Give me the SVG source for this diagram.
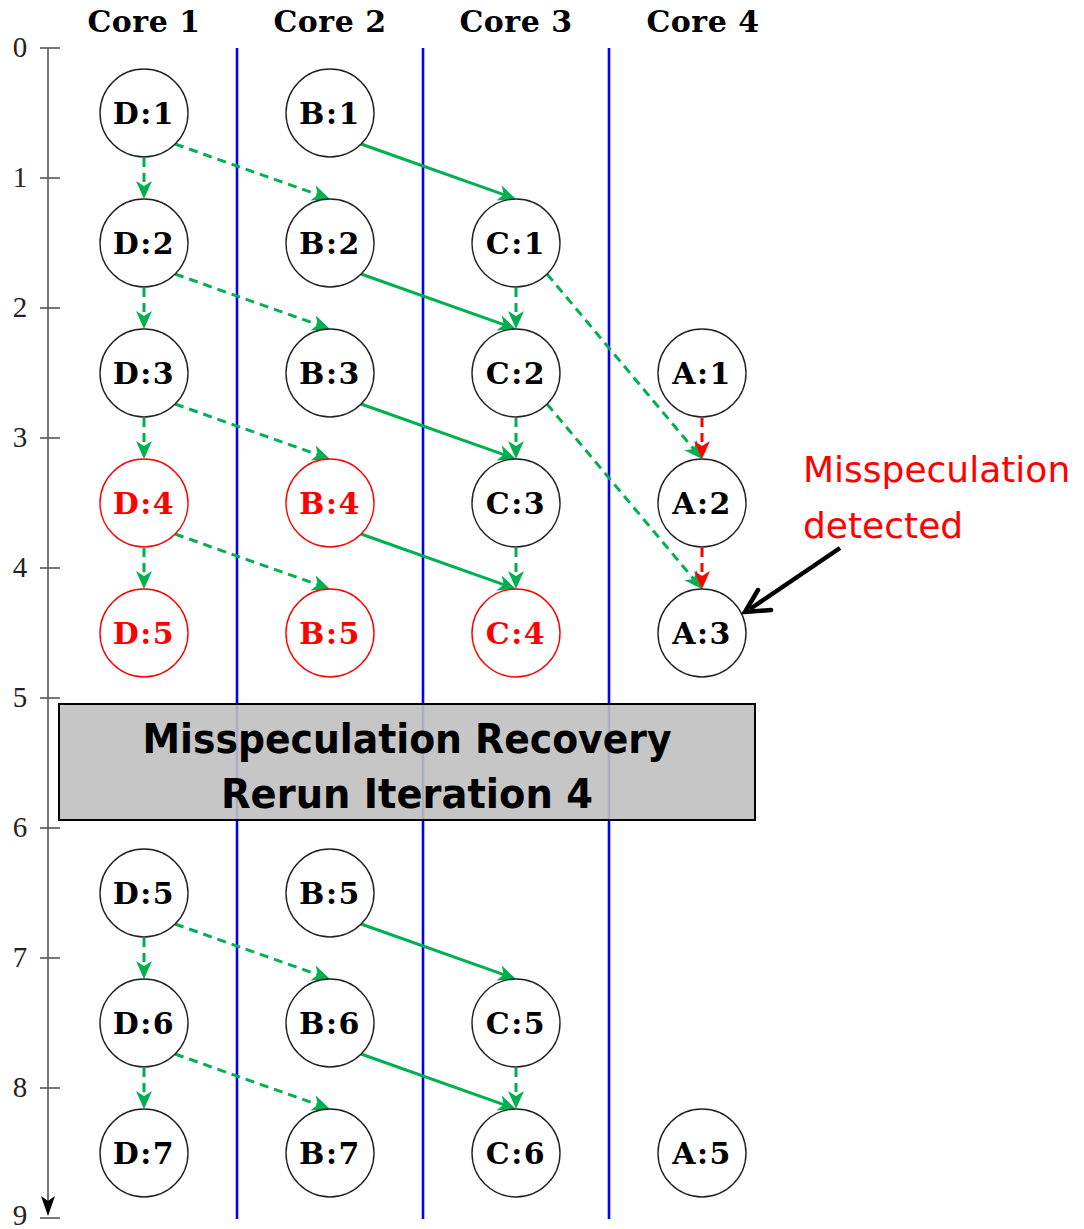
<svg xmlns="http://www.w3.org/2000/svg" width="1084" height="1229" viewBox="0 0 1084 1229">
  <style>
    .hdr { font-family: "DejaVu Serif", "Liberation Serif", serif; font-weight: bold; font-size: 30px; text-anchor: middle; fill: #000; letter-spacing: 0.5px; }
    .tick { font-family: "Liberation Serif", "DejaVu Serif", serif; font-size: 29px; text-anchor: middle; fill: #222; }
    .node circle { fill: #fff; stroke: #222; stroke-width: 1.4; }
    .node text { font-family: "DejaVu Serif", "Liberation Serif", serif; font-weight: bold; font-size: 30px; text-anchor: middle; fill: #000; letter-spacing: 1.5px; }
    .node.bad circle { stroke: #ff0000; }
    .node.bad text { fill: #ff0000; }
    .core { stroke: #0000ff; stroke-width: 2.6; }
    .axis { stroke: #555; stroke-width: 1.6; fill: none; }
    .dep { fill: none; stroke: #00b050; stroke-width: 3; }
    .dash { stroke-dasharray: 9 6; }
    .spec { fill: none; stroke: #ff0000; stroke-width: 3; stroke-dasharray: 9 6; }
    .gA { marker-end: url(#headG); }
    .rA { marker-end: url(#headR); }
    .note { font-family: "DejaVu Sans", "Liberation Sans", sans-serif; font-size: 36px; fill: #ff0000; }
    .banner { font-family: "DejaVu Sans", "Liberation Sans", sans-serif; font-weight: bold; font-size: 41px; text-anchor: middle; fill: #000; }
  </style>
  <defs>
    <marker id="headG" viewBox="0 0 18 16" refX="8" refY="8" markerWidth="18" markerHeight="16" markerUnits="userSpaceOnUse" orient="auto">
      <path d="M0,0 L18,8 L0,16 L5,8 Z" fill="#00b050"/>
    </marker>
    <marker id="headR" viewBox="0 0 18 16" refX="8" refY="8" markerWidth="18" markerHeight="16" markerUnits="userSpaceOnUse" orient="auto">
      <path d="M0,0 L18,8 L0,16 L5,8 Z" fill="#ff0000"/>
    </marker>
  </defs>

  <rect width="1084" height="1229" fill="#fff"/>

  <!-- column headers -->
  <g id="headers">
    <text class="hdr" x="144" y="32">Core 1</text>
    <text class="hdr" x="330" y="32">Core 2</text>
    <text class="hdr" x="516" y="32">Core 3</text>
    <text class="hdr" x="703" y="32">Core 4</text>
  </g>

  <!-- time axis -->
  <g id="axis">
    <line class="axis" x1="48" y1="48" x2="48" y2="1206"/>
    <path d="M48,1216 L41,1196 L48,1201 L55,1196 Z" fill="#000"/>
    <g class="axis">
      <line x1="40" y1="48" x2="60" y2="48"/>
      <line x1="40" y1="178" x2="60" y2="178"/>
      <line x1="40" y1="308" x2="60" y2="308"/>
      <line x1="40" y1="438" x2="60" y2="438"/>
      <line x1="40" y1="568" x2="60" y2="568"/>
      <line x1="40" y1="698" x2="60" y2="698"/>
      <line x1="40" y1="828" x2="60" y2="828"/>
      <line x1="40" y1="958" x2="60" y2="958"/>
      <line x1="40" y1="1088" x2="60" y2="1088"/>
      <line x1="40" y1="1218" x2="60" y2="1218"/>
    </g>
    <text class="tick" x="20" y="57">0</text>
    <text class="tick" x="20" y="187">1</text>
    <text class="tick" x="20" y="317">2</text>
    <text class="tick" x="20" y="447">3</text>
    <text class="tick" x="20" y="577">4</text>
    <text class="tick" x="20" y="707">5</text>
    <text class="tick" x="20" y="837">6</text>
    <text class="tick" x="20" y="967">7</text>
    <text class="tick" x="20" y="1097">8</text>
    <text class="tick" x="20" y="1225">9</text>
  </g>

  <!-- core separators -->
  <g id="separators">
    <line class="core" x1="237" y1="48" x2="237" y2="1219"/>
    <line class="core" x1="423" y1="48" x2="423" y2="1219"/>
    <line class="core" x1="609" y1="48" x2="609" y2="1219"/>
  </g>

  <!-- dependences -->
  <g id="connectors">
    <!-- Core 1 chain, before recovery -->
    <line class="dep dash gA" x1="144" y1="158" x2="144" y2="189"/>
    <line class="dep dash gA" x1="144" y1="288" x2="144" y2="319"/>
    <line class="dep dash gA" x1="144" y1="418" x2="144" y2="449"/>
    <line class="dep dash gA" x1="144" y1="548" x2="144" y2="579"/>
    <!-- Core 1 to Core 2 -->
    <line class="dep dash gA" x1="175" y1="144" x2="320.6" y2="195.7"/>
    <line class="dep dash gA" x1="175" y1="274" x2="320.6" y2="325.7"/>
    <line class="dep dash gA" x1="175" y1="404" x2="320.6" y2="455.7"/>
    <line class="dep dash gA" x1="175" y1="534" x2="320.6" y2="585.7"/>
    <!-- Core 2 to Core 3 -->
    <line class="dep gA" x1="361" y1="144" x2="506.6" y2="195.7"/>
    <line class="dep gA" x1="361" y1="274" x2="506.6" y2="325.7"/>
    <line class="dep gA" x1="361" y1="404" x2="506.6" y2="455.7"/>
    <line class="dep gA" x1="361" y1="534" x2="506.6" y2="585.7"/>
    <!-- Core 3 chain -->
    <line class="dep dash gA" x1="516" y1="288" x2="516" y2="319"/>
    <line class="dep dash gA" x1="516" y1="418" x2="516" y2="449"/>
    <line class="dep dash gA" x1="516" y1="548" x2="516" y2="579"/>
    <!-- Core 3 to Core 4 -->
    <line class="dep dash gA" x1="547" y1="274" x2="695.6" y2="451.3"/>
    <line class="dep dash gA" x1="547" y1="404" x2="695.6" y2="581.3"/>
    <!-- Core 4 speculative chain -->
    <line class="spec rA" x1="702" y1="418" x2="702" y2="449"/>
    <line class="spec rA" x1="702" y1="548" x2="702" y2="579"/>

    <!-- after recovery -->
    <line class="dep dash gA" x1="144" y1="938" x2="144" y2="969"/>
    <line class="dep dash gA" x1="144" y1="1068" x2="144" y2="1099"/>
    <line class="dep dash gA" x1="175" y1="924" x2="320.6" y2="975.7"/>
    <line class="dep dash gA" x1="175" y1="1054" x2="320.6" y2="1105.7"/>
    <line class="dep gA" x1="361" y1="924" x2="506.6" y2="975.7"/>
    <line class="dep gA" x1="361" y1="1054" x2="506.6" y2="1105.7"/>
    <line class="dep dash gA" x1="516" y1="1068" x2="516" y2="1099"/>

    <!-- callout pointer -->
    <line x1="840" y1="548" x2="750" y2="609" stroke="#000" stroke-width="4.5"/>
    <polyline points="758,590 745,612 771,610" fill="none" stroke="#000" stroke-width="4.5" stroke-linejoin="miter" stroke-linecap="round"/>
  </g>

  <!-- Core 1 -->
  <g id="D1" class="node"><circle cx="144" cy="113" r="44"/><text x="144" y="124">D:1</text></g>
  <g id="D2" class="node"><circle cx="144" cy="243" r="44"/><text x="144" y="254">D:2</text></g>
  <g id="D3" class="node"><circle cx="144" cy="373" r="44"/><text x="144" y="384">D:3</text></g>
  <g id="D4" class="node bad"><circle cx="144" cy="503" r="44"/><text x="144" y="514">D:4</text></g>
  <g id="D5" class="node bad"><circle cx="144" cy="633" r="44"/><text x="144" y="644">D:5</text></g>
  <g id="D5r" class="node"><circle cx="144" cy="893" r="44"/><text x="144" y="904">D:5</text></g>
  <g id="D6" class="node"><circle cx="144" cy="1023" r="44"/><text x="144" y="1034">D:6</text></g>
  <g id="D7" class="node"><circle cx="144" cy="1153" r="44"/><text x="144" y="1164">D:7</text></g>

  <!-- Core 2 -->
  <g id="B1" class="node"><circle cx="330" cy="113" r="44"/><text x="330" y="124">B:1</text></g>
  <g id="B2" class="node"><circle cx="330" cy="243" r="44"/><text x="330" y="254">B:2</text></g>
  <g id="B3" class="node"><circle cx="330" cy="373" r="44"/><text x="330" y="384">B:3</text></g>
  <g id="B4" class="node bad"><circle cx="330" cy="503" r="44"/><text x="330" y="514">B:4</text></g>
  <g id="B5" class="node bad"><circle cx="330" cy="633" r="44"/><text x="330" y="644">B:5</text></g>
  <g id="B5r" class="node"><circle cx="330" cy="893" r="44"/><text x="330" y="904">B:5</text></g>
  <g id="B6" class="node"><circle cx="330" cy="1023" r="44"/><text x="330" y="1034">B:6</text></g>
  <g id="B7" class="node"><circle cx="330" cy="1153" r="44"/><text x="330" y="1164">B:7</text></g>

  <!-- Core 3 -->
  <g id="C1" class="node"><circle cx="516" cy="243" r="44"/><text x="516" y="254">C:1</text></g>
  <g id="C2" class="node"><circle cx="516" cy="373" r="44"/><text x="516" y="384">C:2</text></g>
  <g id="C3" class="node"><circle cx="516" cy="503" r="44"/><text x="516" y="514">C:3</text></g>
  <g id="C4" class="node bad"><circle cx="516" cy="633" r="44"/><text x="516" y="644">C:4</text></g>
  <g id="C5" class="node"><circle cx="516" cy="1023" r="44"/><text x="516" y="1034">C:5</text></g>
  <g id="C6" class="node"><circle cx="516" cy="1153" r="44"/><text x="516" y="1164">C:6</text></g>

  <!-- Core 4 -->
  <g id="A1" class="node"><circle cx="702" cy="373" r="44"/><text x="702" y="384">A:1</text></g>
  <g id="A2" class="node"><circle cx="702" cy="503" r="44"/><text x="702" y="514">A:2</text></g>
  <g id="A3" class="node"><circle cx="702" cy="633" r="44"/><text x="702" y="644">A:3</text></g>
  <g id="A5" class="node"><circle cx="702" cy="1153" r="44"/><text x="702" y="1164">A:5</text></g>

  <!-- recovery banner -->
  <g id="recovery">
    <rect x="59" y="704" width="696" height="116" fill="#c0c0c0" fill-opacity="0.9" stroke="#000" stroke-width="2"/>
    <text class="banner" x="407" y="753" textLength="529" lengthAdjust="spacingAndGlyphs">Misspeculation Recovery</text>
    <text class="banner" x="407" y="808" textLength="372" lengthAdjust="spacingAndGlyphs">Rerun Iteration 4</text>
  </g>

  <!-- annotation -->
  <g id="note">
    <text class="note" x="803" y="482">Misspeculation</text>
    <text class="note" x="803" y="538">detected</text>
  </g>
</svg>
